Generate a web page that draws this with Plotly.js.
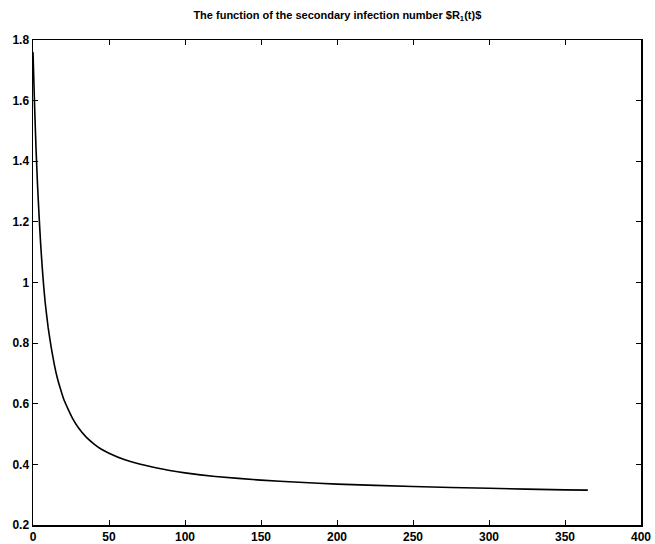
<!DOCTYPE html>
<html>
<head>
<meta charset="utf-8">
<script src="https://cdn.plot.ly/plotly-3.0.1.min.js"></script>
<style>html,body{margin:0;padding:0;background:#fff;}#chart{width:655px;height:544px;}</style>
</head>
<body>
<div id="chart"></div>
<script>
// Day t and secondary infection number R1(t)
const tDays = [0, 1, 2, 3, 4, 5, 6, 7, 8, 10, 12, 14, 16, 18, 20, 23, 26, 30, 35, 40, 45, 50, 60, 70, 80, 90, 100, 120, 150, 175, 200, 250, 300, 350, 365];
const r1Vals = [1.76, 1.59, 1.44, 1.32, 1.22, 1.13, 1.055, 0.99, 0.935, 0.85, 0.785, 0.73, 0.685, 0.65, 0.618, 0.583, 0.552, 0.52, 0.49, 0.468, 0.45, 0.437, 0.416, 0.401, 0.39, 0.38, 0.372, 0.36, 0.348, 0.341, 0.335, 0.327, 0.321, 0.316, 0.315];
const xTicks = [0, 50, 100, 150, 200, 250, 300, 350, 400];
const yTicks = [0.2, 0.4, 0.6, 0.8, 1, 1.2, 1.4, 1.6, 1.8];
const yTickText = ['0.2', '0.4', '0.6', '0.8', '1', '1.2', '1.4', '1.6', '1.8'];

const trace = {
  x: tDays, y: r1Vals, type: 'scatter', mode: 'lines',
  line: {color: '#000', width: 1.6, shape: 'spline', smoothing: 0.5},
  hoverinfo: 'skip'
};
const font = {family: 'Liberation Sans, Arial, sans-serif', color: '#000'};
const layout = {
  width: 655, height: 544,
  margin: {l: 33, r: 14, t: 40, b: 19, pad: 0},
  paper_bgcolor: '#fff', plot_bgcolor: '#fff',
  showlegend: false,
  font: font,
  title: {text: '<b>The function of the secondary infection number $R<sub>1</sub>(t)$</b>',
          font: {family: 'Liberation Sans, Arial, sans-serif', size: 11, color: '#000'},
          x: 0.515, xanchor: 'center', y: 0.972, yanchor: 'middle'},
  xaxis: {range: [0, 400], tickvals: xTicks, ticktext: xTicks.map(String),
          showgrid: false, zeroline: false, showline: true, linecolor: '#000', linewidth: 1.5,
          mirror: 'ticks', ticks: 'inside', ticklen: 5, tickcolor: '#000', tickwidth: 1,
          tickfont: {family: 'Liberation Sans, Arial, sans-serif', size: 12, color: '#000', weight: 'bold'}},
  yaxis: {range: [0.2, 1.8], tickvals: yTicks, ticktext: yTickText,
          showgrid: false, zeroline: false, showline: true, linecolor: '#000', linewidth: 1.5,
          mirror: 'ticks', ticks: 'inside', ticklen: 5, tickcolor: '#000', tickwidth: 1,
          tickfont: {family: 'Liberation Sans, Arial, sans-serif', size: 12, color: '#000', weight: 'bold'}}
};
Plotly.newPlot('chart', [trace], layout, {displayModeBar: false, staticPlot: true});
</script>
</body>
</html>
